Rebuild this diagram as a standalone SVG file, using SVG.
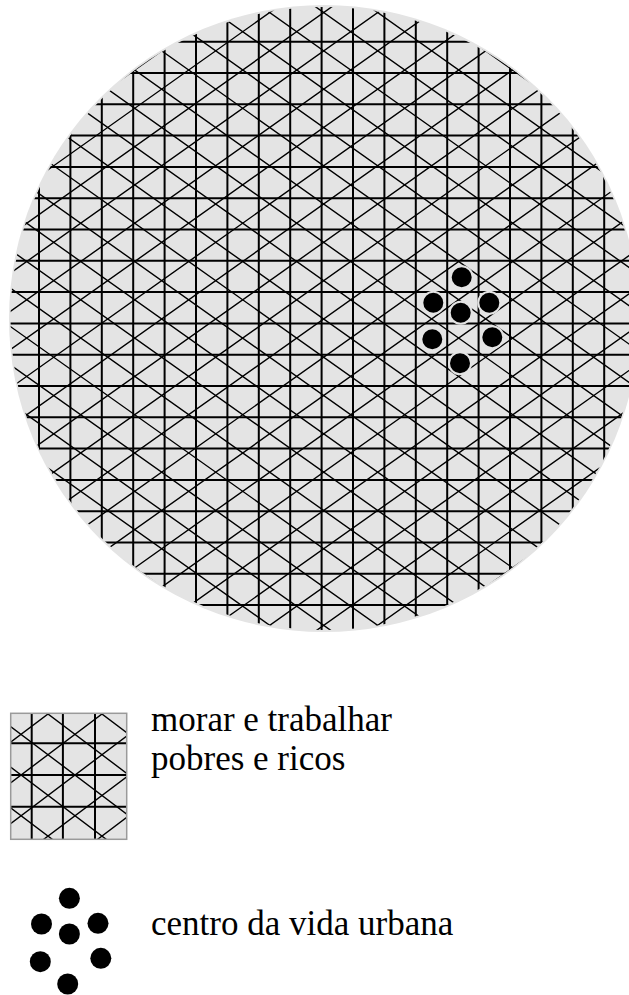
<svg xmlns="http://www.w3.org/2000/svg" width="629" height="995" viewBox="0 0 629 995">
<style>
.bg{fill:#e4e4e4}
.grid{stroke:#000;stroke-width:2;fill:none}
.diag{stroke:#000;stroke-width:1.4;fill:none}
.dot{fill:#000;stroke:#e4e4e4;stroke-width:2}
.ldot{fill:#000}
.lbl{font-family:"Liberation Serif","Times New Roman",serif;font-size:35px;fill:#000}
</style>
<defs>
<clipPath id="cityClip"><ellipse cx="324" cy="318.5" rx="313.5" ry="311.5"/></clipPath>
<clipPath id="legClip"><rect x="10.7" y="713.3" width="116" height="126"/></clipPath>
</defs>
<g id="city">
<ellipse class="bg" cx="324" cy="318.5" rx="315" ry="313.5"/>
<g clip-path="url(#cityClip)">
<path class="grid" d="M39 0V640M70.4 0V640M101.8 0V640M133.2 0V640M164.6 0V640M196 0V640M227.4 0V640M258.8 0V640M290.2 0V640M321.6 0V640M353 0V640M384.4 0V640M415.8 0V640M447.2 0V640M478.6 0V640M510 0V640M541.4 0V640M572.8 0V640M604.2 0V640"/>
<path class="grid" d="M0 41.7H640M0 73H640M0 104.3H640M0 135.6H640M0 166.9H640M0 198.2H640M0 229.5H640M0 260.8H640M0 292.1H640M0 323.4H640M0 354.7H640M0 386H640M0 417.3H640M0 448.6H640M0 479.9H640M0 511.2H640M0 542.5H640M0 573.8H640M0 605.1H640"/>
<path class="diag" d="M0 -446.84L640 7.11M0 -408.54L640 45.41M0 -370.24L640 83.71M0 -331.94L640 122.01M0 -293.64L640 160.31M0 -255.34L640 198.61M0 -217.04L640 236.91M0 -178.74L640 275.21M0 -140.44L640 313.51M0 -102.14L640 351.81M0 -63.84L640 390.11M0 -25.54L640 428.41M0 12.76L640 466.71M0 51.06L640 505.01M0 89.36L640 543.31M0 127.66L640 581.61M0 165.96L640 619.91M0 204.26L640 658.21M0 242.56L640 696.51M0 280.86L640 734.81M0 319.16L640 773.11M0 357.46L640 811.41M0 395.76L640 849.71M0 434.06L640 888.01M0 472.36L640 926.31M0 510.66L640 964.61M0 548.96L640 1002.91M0 587.26L640 1041.21M0 625.56L640 1079.51"/>
<path class="diag" d="M0 12.34L640 -441.61M0 50.64L640 -403.31M0 88.94L640 -365.01M0 127.24L640 -326.71M0 165.54L640 -288.41M0 203.84L640 -250.11M0 242.14L640 -211.81M0 280.44L640 -173.51M0 318.74L640 -135.21M0 357.04L640 -96.91M0 395.34L640 -58.61M0 433.64L640 -20.31M0 471.94L640 17.99M0 510.24L640 56.29M0 548.54L640 94.59M0 586.84L640 132.89M0 625.14L640 171.19M0 663.44L640 209.49M0 701.74L640 247.79M0 740.04L640 286.09M0 778.34L640 324.39M0 816.64L640 362.69M0 854.94L640 400.99M0 893.24L640 439.29M0 931.54L640 477.59M0 969.84L640 515.89M0 1008.14L640 554.19M0 1046.44L640 592.49M0 1084.74L640 630.79"/>
</g>
</g>
<g id="center">
<circle class="dot" cx="461.7" cy="277.3" r="11"/>
<circle class="dot" cx="433.3" cy="302.7" r="11"/>
<circle class="dot" cx="489.3" cy="302.7" r="11"/>
<circle class="dot" cx="460.7" cy="312.7" r="11"/>
<circle class="dot" cx="432.3" cy="339.3" r="11"/>
<circle class="dot" cx="492.3" cy="337.3" r="11"/>
<circle class="dot" cx="460" cy="363.3" r="11"/>
</g>
<g id="legend-housing">
<rect class="bg" x="10.7" y="713.3" width="116" height="126"/>
<g clip-path="url(#legClip)">
<path class="grid" d="M31.7 700V850M62.9 700V850M95 700V850M0 743.3H140M0 775H140M0 806.7H140"/>
<path class="diag" d="M0 596.4L140 702M0 637.1L140 742.7M0 677.8L140 783.4M0 718.5L140 824.1M0 759.2L140 864.8M0 799.9L140 905.5M0 840.6L140 946.2"/>
<path class="diag" d="M0 709.5L140 603.9M0 750.2L140 644.6M0 790.9L140 685.3M0 831.6L140 726M0 872.3L140 766.7M0 913L140 807.4M0 953.7L140 848.1"/>
</g>
<rect x="10.7" y="713.3" width="116" height="126" fill="none" stroke="#9a9a9a" stroke-width="1.5"/>
<text class="lbl" x="151" y="731">morar e trabalhar</text>
<text class="lbl" x="151" y="769.5">pobres e ricos</text>
</g>
<g id="legend-center">
<circle class="ldot" cx="69.4" cy="898.3" r="10.5"/>
<circle class="ldot" cx="41.5" cy="924" r="10.5"/>
<circle class="ldot" cx="98" cy="923.3" r="10.5"/>
<circle class="ldot" cx="69.4" cy="934" r="10.5"/>
<circle class="ldot" cx="40.3" cy="961.7" r="10.5"/>
<circle class="ldot" cx="100.8" cy="958.3" r="10.5"/>
<circle class="ldot" cx="67.7" cy="984" r="10.5"/>
<text class="lbl" x="151" y="935">centro da vida urbana</text>
</g>
</svg>
